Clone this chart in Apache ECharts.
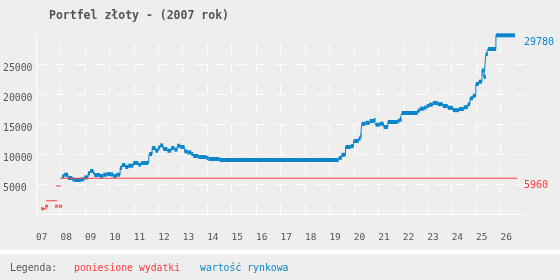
<!DOCTYPE html>
<html>
<head>
<meta charset="utf-8">
<script src="https://cdn.jsdelivr.net/npm/echarts@6/dist/echarts.min.js"></script>
<style>
  html, body { margin: 0; padding: 0; background: #eeeeee; }
  #chart { width: 560px; height: 280px; }
</style>
</head>
<body>
<div id="chart"></div>
<script>
// podpisy osi x (tygodnie)
const weekLabels = ['07', '08', '09', '10', '11', '12', '13', '14', '15', '16',
  '17', '18', '19', '20', '21', '22', '23', '24', '25', '26']

// wartość rynkowa - poczatek kazdego stopnia (tydzien) i wartosc
const blueWeek = [8.07, 8.15, 8.31, 8.48, 8.56, 8.84, 8.97, 9.13, 9.21, 9.34,
  9.38, 9.62, 9.75, 9.91, 10.03, 10.16, 10.28, 10.44, 10.52, 10.65,
  10.77, 10.98, 11.18, 11.30, 11.59, 11.63, 11.75, 11.88, 12.00, 12.08,
  12.20, 12.37, 12.53, 12.66, 12.78, 12.90, 13.07, 13.19, 13.35, 13.43,
  13.64, 13.97, 14.05, 14.50, 19.38, 19.50, 19.66, 19.87, 19.99, 20.20,
  20.28, 20.32, 20.48, 20.65, 20.81, 20.89, 21.06, 21.22, 21.39, 21.80,
  21.88, 21.96, 22.61, 22.70, 22.86, 22.98, 23.07, 23.23, 23.43, 23.64,
  23.84, 24.05, 24.30, 24.50, 24.66, 24.75, 24.87, 24.99, 25.11, 25.24,
  25.32, 25.40, 25.48, 25.81, 26.59]
const blueValue = [6300, 6550, 6000, 5770, 5670, 5770, 6100, 6770, 7170, 6930,
  6500, 6330, 6550, 6670, 6600, 6330, 6550, 7670, 8170, 7830,
  8050, 8500, 8220, 8500, 8770, 10000, 11000, 10550, 11100, 11430,
  10830, 10550, 11000, 10720, 11380, 11170, 10430, 10270, 10000, 9670,
  9500, 9330, 9170, 9000, 9330, 9880, 11170, 11300, 12170, 12600,
  12950, 15030, 15200, 15500, 15670, 14880, 15050, 14500, 15330, 15550,
  15720, 16830, 17220, 17550, 17720, 18000, 18220, 18500, 18300, 18000,
  17700, 17300, 17500, 17800, 18300, 19270, 19720, 21670, 22050, 23930,
  22830, 26670, 27500, 29780, 29780]

// poniesione wydatki - odcinki (null = przerwa)
const redWeek = [7.27, 7.44, 7.45, 7.41, 7.86, 7.87, 7.82, 8.02, 8.03, 7.98, 26.67]
const redValue = [880, 880, null, 2200, 2200, null, 4670, 4670, null, 5960, 5960]
// pojedyncze punkty wydatkow
const redDotWeek = [7.27, 7.43, 7.84, 8.00]
const redDotValue = [880, 1300, 1300, 1300]

const BLUE = '#0a86cb'
const RED = '#ff3b3b'
const GREY = '#555555'
const MONO = '"DejaVu Sans Mono", monospace'

const chart = echarts.init(document.getElementById('chart'))

const blueLine = blueWeek.map((w, i) => [w, blueValue[i]])
const blueBars = []
for (let i = 0; i < blueWeek.length - 1; i++) {
  blueBars.push([blueWeek[i], blueWeek[i + 1], blueValue[i]])
}
const redLine = redWeek.map((w, i) => [w, redValue[i] == null ? '-' : redValue[i]])
const redDots = redDotWeek.map((w, i) => [w, redDotValue[i]])

const option = {
  backgroundColor: '#eeeeee',
  animation: false,
  title: {
    text: 'Portfel złoty - (2007 rok)',
    left: 44,
    top: 5,
    textStyle: { fontFamily: MONO, fontSize: 11.5, fontWeight: 'bold', color: GREY }
  },
  grid: { left: 36, right: 35, top: 34, bottom: 66 },
  xAxis: {
    type: 'value',
    min: 7,
    max: 27,
    interval: 1,
    axisLine: { lineStyle: { color: '#ffffff', width: 1 } },
    axisTick: { show: false },
    axisLabel: {
      margin: 19,
      align: 'left',
      showMaxLabel: false,
      fontFamily: MONO,
      fontSize: 9.5,
      color: GREY,
      formatter: (v) => weekLabels[Math.round(v) - 7] || ''
    },
    splitLine: {
      show: true,
      showMinLine: false,
      showMaxLine: false,
      lineStyle: { color: '#ffffff', width: 1, type: [10, 10], dashOffset: 10 }
    }
  },
  yAxis: {
    type: 'value',
    min: 0,
    max: 30000,
    interval: 5000,
    axisLine: { show: true, lineStyle: { color: '#ffffff', width: 1 } },
    axisTick: { show: false },
    axisLabel: {
      showMinLabel: false,
      showMaxLabel: false,
      align: 'left',
      margin: 33,
      verticalAlign: 'top',
      lineHeight: 8,
      fontFamily: MONO,
      fontSize: 9.8,
      color: GREY,
      formatter: (v) => String(v)
    },
    splitLine: {
      show: true,
      showMinLine: false,
      showMaxLine: false,
      lineStyle: { color: '#ffffff', width: 1, type: [10, 10] }
    }
  },
  series: [
    {
      name: 'wartość rynkowa',
      type: 'line',
      step: 'end',
      data: blueLine,
      showSymbol: false,
      lineStyle: { color: BLUE, width: 1 },
      z: 3,
      endLabel: {
        show: true,
        formatter: (p) => String(p.value[1]),
        color: BLUE,
        fontFamily: MONO,
        fontSize: 10,
        distance: 9,
        offset: [0, 7]
      }
    },
    {
      name: 'wartość rynkowa',
      type: 'custom',
      data: blueBars,
      z: 3,
      renderItem: (params, api) => {
        const a = api.coord([api.value(0), api.value(2)])
        const b = api.coord([api.value(1), api.value(2)])
        return {
          type: 'rect',
          shape: { x: a[0], y: a[1] - 2, width: b[0] - a[0], height: 4 },
          style: { fill: BLUE }
        }
      }
    },
    {
      name: 'poniesione wydatki',
      type: 'line',
      data: redLine,
      showSymbol: false,
      connectNulls: false,
      lineStyle: { color: RED, width: 1 },
      z: 5,
      endLabel: {
        show: true,
        formatter: (p) => String(p.value[1]),
        color: RED,
        fontFamily: MONO,
        fontSize: 10,
        distance: 7,
        offset: [0, 7]
      }
    },
    {
      name: 'poniesione wydatki',
      type: 'scatter',
      data: redDots,
      symbol: 'rect',
      symbolSize: 3,
      itemStyle: { color: RED },
      z: 5
    }
  ],
  graphic: [
    {
      type: 'rect',
      left: 0,
      top: 250,
      shape: { width: 560, height: 4 },
      style: { fill: '#ffffff' }
    },
    {
      type: 'text',
      left: 10,
      top: 263,
      style: { text: 'Legenda:', fill: GREY, font: '9.8px ' + MONO }
    },
    {
      type: 'text',
      left: 74,
      top: 263,
      style: { text: 'poniesione wydatki', fill: RED, font: '9.8px ' + MONO }
    },
    {
      type: 'text',
      left: 200,
      top: 263,
      style: { text: 'wartość rynkowa', fill: BLUE, font: '9.8px ' + MONO }
    }
  ]
}

chart.setOption(option)
</script>
</body>
</html>
